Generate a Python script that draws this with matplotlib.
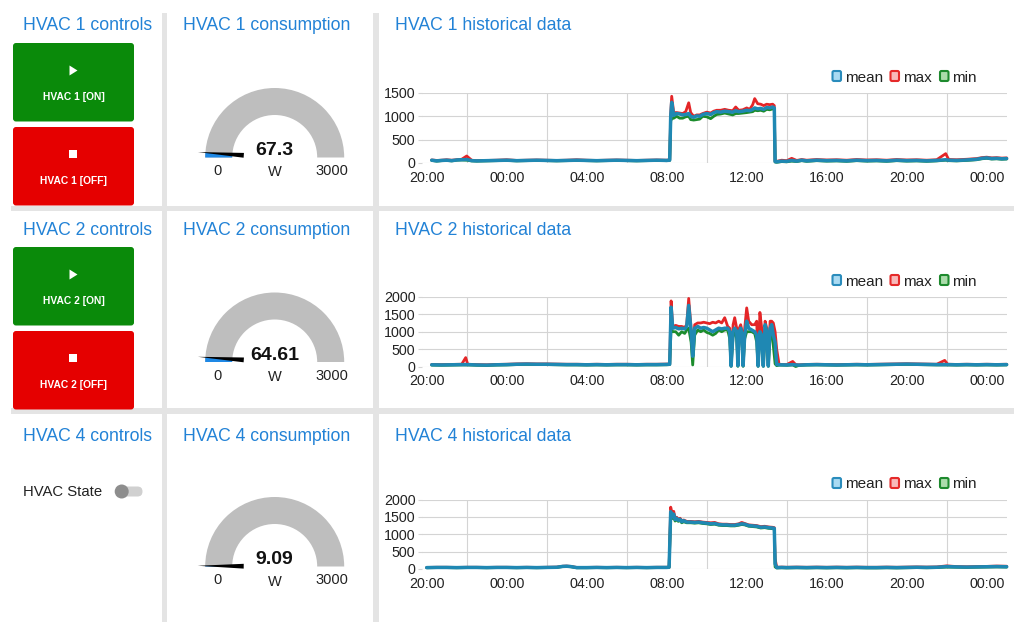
import numpy as np
import matplotlib
matplotlib.use('Agg')
import matplotlib.pyplot as plt
from matplotlib.patches import Rectangle, FancyBboxPatch, Polygon, Wedge, Circle

plt.rcParams['font.family'] = ['Liberation Sans', 'DejaVu Sans']

# ---------------- data ----------------
gauge_values = [67.3, 64.61, 9.09]
gauge_max = 3000
gauge_unit = 'W'
row_names = ['HVAC 1', 'HVAC 2', 'HVAC 4']

x_tick_pos = [0, 4, 8, 12, 16, 20, 24, 28]          # hours after 20:00
x_tick_labels = ['20:00', '00:00', '04:00', '08:00', '12:00', '16:00', '20:00', '00:00']
y_ticks_1 = [0, 500, 1000, 1500]
y_ticks_2 = [0, 500, 1000, 1500, 2000]
y_ticks_3 = [0, 500, 1000, 1500, 2000]

# HVAC 1 (hours after 20:00)
t1 = ([0.25, 0.5, 0.75, 1.0, 1.25, 1.5, 1.75, 2.0, 2.25, 2.5,
       3.0, 3.5, 4.0, 4.5, 5.0, 5.5, 6.0, 6.5, 7.0, 7.5,
       8.0, 8.5, 9.0, 9.5, 10.0, 10.5, 11.0, 11.5, 12.0, 12.15]
      + [12.2, 12.25, 12.35, 12.5, 12.65, 12.8, 12.95, 13.1, 13.2, 13.35,
         13.5, 13.65, 13.8, 14.0, 14.2, 14.35, 14.5, 14.7, 14.9, 15.1,
         15.3, 15.45, 15.6, 15.8, 16.0, 16.15, 16.3, 16.4, 16.55, 16.7,
         16.85, 17.0, 17.15, 17.3, 17.38]
      + [17.42, 17.5, 17.75, 18.0, 18.25, 18.5, 18.75, 19.0, 19.5, 20.0,
         20.5, 21.0, 21.5, 22.0, 22.5, 23.0, 23.5, 24.0, 24.5, 25.0,
         25.5, 25.95, 26.1, 26.5, 27.0, 27.5, 27.75, 28.0, 28.25, 28.5,
         28.75, 29.0])
mean1 = ([60, 45, 55, 60, 50, 65, 70, 75, 50, 45,
          50, 55, 60, 50, 55, 60, 55, 50, 55, 60,
          55, 50, 55, 60, 55, 50, 55, 60, 55, 60]
         + [1000, 1300, 1020, 1060, 1050, 1030, 1040, 1060, 1000, 980,
            1010, 1000, 1040, 1060, 1040, 1080, 1100, 1090, 1110, 1100,
            1090, 1120, 1100, 1110, 1130, 1120, 1150, 1180, 1160, 1170,
            1150, 1190, 1180, 1200, 1180]
         + [30, 25, 40, 35, 55, 40, 60, 45, 60, 50,
            55, 45, 60, 50, 55, 45, 60, 50, 55, 45,
            55, 70, 60, 55, 65, 80, 100, 110, 95, 100,
            90, 95])
max1 = ([65, 55, 60, 70, 60, 70, 80, 150, 60, 50,
         55, 60, 70, 55, 60, 65, 60, 55, 60, 70,
         60, 55, 60, 65, 60, 55, 60, 65, 60, 70]
        + [1050, 1430, 1080, 1080, 1070, 1060, 1100, 1290, 1080, 1000,
           1030, 1030, 1060, 1090, 1070, 1110, 1130, 1130, 1150, 1130,
           1120, 1200, 1130, 1140, 1180, 1150, 1250, 1380, 1270, 1260,
           1230, 1260, 1250, 1260, 1230]
        + [40, 35, 60, 50, 100, 55, 75, 60, 75, 65,
           70, 60, 75, 65, 70, 60, 75, 65, 70, 60,
           70, 200, 75, 70, 80, 95, 115, 125, 110, 115,
           105, 110])
min1 = ([55, 40, 50, 55, 45, 60, 65, 60, 45, 40,
         45, 50, 55, 45, 50, 55, 50, 45, 50, 55,
         50, 45, 50, 55, 50, 45, 50, 55, 50, 55]
        + [900, 950, 960, 1000, 960, 960, 990, 1000, 930, 920,
           930, 940, 1000, 990, 950, 1000, 1040, 1050, 1070, 1050,
           1030, 1060, 1060, 1070, 1080, 1090, 1100, 1130, 1120, 1130,
           1110, 1150, 1140, 1160, 1150]
        + [20, 15, 30, 25, 40, 30, 50, 35, 50, 40,
           45, 35, 50, 40, 45, 35, 50, 40, 45, 35,
           45, 60, 50, 45, 55, 70, 90, 100, 85, 90,
           80, 85])

# HVAC 2
t2 = ([0.25, 0.75, 1.25, 1.75, 1.95, 2.05, 2.5, 3.0, 3.5, 4.0,
       4.5, 5.0, 5.5, 6.0, 6.5, 7.0, 7.5, 8.0, 8.5, 9.0,
       9.5, 10.0, 10.5, 11.0, 11.5, 12.0, 12.15]
      + [12.22, 12.3, 12.45, 12.6, 12.75, 12.9, 13.0, 13.1, 13.22, 13.3,
         13.4, 13.55, 13.7, 13.85, 14.0, 14.15, 14.3, 14.45, 14.6, 14.75,
         14.9, 15.05, 15.15, 15.22, 15.32, 15.4, 15.5, 15.56, 15.63, 15.7,
         15.77, 15.82, 15.9, 16.0, 16.1, 16.25, 16.4, 16.5, 16.57, 16.66,
         16.75, 16.83, 16.92, 17.0, 17.08, 17.17, 17.25, 17.33, 17.42, 17.5]
      + [17.62, 18.0, 18.3, 18.45, 18.6, 19.0, 19.5, 20.0, 20.5, 21.0,
         21.5, 22.0, 22.5, 23.0, 23.5, 24.0, 24.5, 25.0, 25.5, 25.9,
         26.05, 26.5, 27.0, 27.5, 28.0, 28.5, 29.0])
mean2 = ([55, 50, 55, 60, 60, 60, 50, 45, 55, 60,
          70, 75, 70, 70, 65, 60, 60, 55, 60, 55,
          60, 60, 55, 60, 60, 65, 70]
         + [1700, 1100, 1120, 1080, 1100, 1080, 1150, 1750, 1000, 300,
            1100, 1150, 1100, 1120, 1100, 1050, 1000, 1050, 1100, 1080,
            1100, 1100, 1000, 20, 1000, 1100, 1000, 30, 1000, 1100,
            900, 30, 900, 1300, 1100, 1050, 1000, 900, 20, 1000,
            900, 20, 1200, 1000, 20, 1100, 1200, 900, 700, 60]
         + [55, 50, 60, 50, 45, 55, 60, 55, 50, 55,
            60, 55, 60, 65, 70, 75, 70, 65, 60, 60,
            60, 55, 60, 55, 60, 55, 60])
max2 = ([65, 60, 65, 70, 260, 70, 60, 55, 65, 70,
         80, 85, 80, 80, 75, 70, 70, 65, 70, 65,
         70, 70, 65, 70, 70, 75, 80]
        + [1880, 1150, 1180, 1150, 1150, 1120, 1200, 1950, 1100, 500,
           1200, 1250, 1250, 1270, 1250, 1230, 1270, 1250, 1300, 1250,
           1400, 1150, 1100, 40, 1200, 1400, 1100, 50, 1100, 1200,
           1000, 50, 1100, 1680, 1300, 1200, 1200, 1300, 40, 1550,
           1100, 60, 1300, 1100, 80, 1300, 1300, 1250, 1000, 500]
        + [65, 60, 150, 60, 55, 65, 70, 65, 60, 65,
           70, 65, 70, 75, 80, 85, 80, 75, 70, 180,
           70, 65, 70, 65, 70, 65, 70])
min2 = ([45, 40, 45, 50, 50, 50, 40, 35, 45, 50,
         60, 65, 60, 60, 55, 50, 50, 45, 50, 45,
         50, 50, 45, 50, 50, 55, 60]
        + [1100, 1000, 1000, 900, 1000, 950, 1050, 1100, 700, 50,
           900, 1050, 1000, 1050, 980, 950, 900, 950, 1050, 1000,
           1050, 1050, 800, 10, 900, 1000, 800, 10, 900, 1000,
           700, 10, 800, 1000, 1000, 1000, 950, 700, 10, 900,
           800, 10, 900, 800, 10, 900, 1000, 600, 80, 30]
        + [45, 40, 50, 5, 35, 45, 50, 45, 40, 45,
           50, 45, 50, 55, 60, 65, 60, 55, 50, 50,
           50, 45, 50, 45, 50, 45, 50])

# HVAC 4
t3 = ([0.0, 0.5, 1.0, 1.5, 2.0, 2.5, 3.0, 3.5, 4.0, 4.5,
       5.0, 5.5, 6.0, 6.5, 6.8, 7.0, 7.2, 7.5, 8.0, 8.5,
       9.0, 9.5, 10.0, 10.5, 11.0, 11.5, 12.0, 12.12]
      + [12.2, 12.27, 12.35, 12.42, 12.5, 12.58, 12.67, 12.75, 12.85, 13.0,
         13.2, 13.4, 13.6, 13.8, 14.0, 14.2, 14.4, 14.6, 14.8, 15.0,
         15.2, 15.4, 15.6, 15.75, 15.9, 16.1, 16.3, 16.5, 16.7, 16.9,
         17.1, 17.3, 17.38]
      + [17.42, 17.5, 17.75, 18.0, 18.5, 19.0, 19.5, 20.0, 20.5, 21.0,
         21.5, 22.0, 22.5, 23.0, 23.5, 24.0, 24.5, 25.0, 25.5, 26.0,
         26.5, 27.0, 27.5, 28.0, 28.5, 29.0])
mean3 = ([40, 45, 45, 40, 45, 45, 40, 45, 45, 40,
          45, 40, 45, 50, 75, 80, 70, 40, 40, 45,
          40, 45, 40, 45, 40, 45, 45, 50]
         + [1650, 1500, 1580, 1420, 1460, 1400, 1430, 1360, 1390, 1350,
            1350, 1340, 1350, 1330, 1320, 1300, 1310, 1280, 1270, 1270,
            1260, 1260, 1280, 1300, 1290, 1250, 1240, 1230, 1200, 1210,
            1190, 1180, 1170]
         + [150, 40, 45, 40, 45, 40, 45, 40, 45, 40,
            45, 40, 40, 45, 40, 45, 50, 45, 50, 70,
            60, 55, 60, 65, 70, 65])
max3 = ([45, 50, 50, 45, 50, 50, 45, 50, 50, 45,
         50, 45, 50, 55, 80, 85, 75, 45, 45, 50,
         45, 50, 45, 50, 45, 50, 50, 55]
        + [1780, 1600, 1660, 1470, 1490, 1430, 1460, 1390, 1410, 1370,
           1370, 1360, 1370, 1350, 1340, 1330, 1340, 1300, 1290, 1290,
           1280, 1280, 1300, 1340, 1310, 1270, 1260, 1250, 1220, 1230,
           1210, 1200, 1190]
        + [300, 50, 55, 50, 55, 50, 55, 50, 55, 50,
           55, 50, 50, 55, 50, 55, 60, 55, 60, 90,
           70, 65, 70, 75, 85, 80])
min3 = ([35, 40, 40, 35, 40, 40, 35, 40, 40, 35,
         40, 35, 40, 45, 70, 75, 65, 35, 35, 40,
         35, 40, 35, 40, 35, 40, 40, 45]
        + [1550, 1450, 1500, 1380, 1420, 1370, 1400, 1330, 1360, 1330,
           1330, 1320, 1330, 1310, 1300, 1280, 1290, 1260, 1250, 1250,
           1240, 1240, 1260, 1280, 1270, 1230, 1220, 1210, 1180, 1190,
           1170, 1160, 1150]
        + [60, 30, 35, 30, 35, 30, 35, 30, 35, 30,
           35, 30, 30, 35, 30, 35, 40, 35, 40, 55,
           50, 45, 50, 55, 60, 55])

# ---------------- styling ----------------
W, H = 1014, 622
BLUE_TITLE = '#2282d6'
SEP = '#e4e4e4'
GREEN_BTN = '#0a8a0a'
RED_BTN = '#e50000'
C_MEAN, C_MAX, C_MIN = '#1f88b3', '#e42527', '#1b8c2c'
TXT = '#222222'

fig = plt.figure(figsize=(W / 100, H / 100), dpi=100)
fig.patch.set_facecolor('white')
bg = fig.add_axes([0, 0, 1, 1])
bg.set_xlim(0, W)
bg.set_ylim(H, 0)
bg.axis('off')

# separators
bg.add_patch(Rectangle((162, 13), 5, H - 13, facecolor=SEP, edgecolor='none'))
bg.add_patch(Rectangle((373, 13), 6, H - 13, facecolor=SEP, edgecolor='none'))
bg.add_patch(Rectangle((11, 206), W - 11, 5, facecolor=SEP, edgecolor='none'))
bg.add_patch(Rectangle((11, 408), W - 11, 6, facecolor=SEP, edgecolor='none'))

row_dy = [0, 204.5, 409]
title_dy = [0, 205, 411]

for i, name in enumerate(row_names):
    ty = 30 + title_dy[i]
    bg.text(23, ty, f'{name} controls', fontsize=12.7, color=BLUE_TITLE, va='baseline', ha='left')
    bg.text(183, ty, f'{name} consumption', fontsize=12.7, color=BLUE_TITLE, va='baseline', ha='left')
    bg.text(395, ty, f'{name} historical data', fontsize=12.7, color=BLUE_TITLE, va='baseline', ha='left')

# buttons for rows 1 and 2
for i in range(2):
    dy = [0, 204][i]
    name = row_names[i]
    bg.add_patch(FancyBboxPatch((13, 43 + dy), 121, 78.5, boxstyle='round,pad=0,rounding_size=3',
                                facecolor=GREEN_BTN, edgecolor='none'))
    bg.add_patch(FancyBboxPatch((13, 127 + dy), 121, 78.5, boxstyle='round,pad=0,rounding_size=3',
                                facecolor=RED_BTN, edgecolor='none'))
    bg.add_patch(Polygon([(69.5, 65.5 + dy), (69.5, 75.5 + dy), (77.5, 70.5 + dy)], closed=True,
                         facecolor='white', edgecolor='none'))
    bg.add_patch(Rectangle((69, 150 + dy), 8, 8, facecolor='white', edgecolor='none'))
    bg.text(73.5, 100 + dy, f'{name} [ON]', fontsize=7.4, fontweight='bold', color='white',
            ha='center', va='baseline')
    bg.text(73.5, 184 + dy, f'{name} [OFF]', fontsize=7.4, fontweight='bold', color='white',
            ha='center', va='baseline')

# toggle for row 3
bg.text(23, 496.5, 'HVAC State', fontsize=10.7, color=TXT, ha='left', va='baseline')
bg.add_patch(FancyBboxPatch((117, 486.5), 25.5, 10, boxstyle='round,pad=0,rounding_size=5',
                            facecolor='#d0d0d0', edgecolor='none'))
bg.add_patch(Circle((121.7, 491.5), 7, facecolor='#8d8d8d', edgecolor='none'))

# gauges
def draw_gauge(cx, cy, value, vmax, unit):
    R, r = 69.5, 42.5
    bg.add_patch(Wedge((cx, cy), R, 180, 360, width=R - r, facecolor='#bebebe', edgecolor='none'))
    frac = value / vmax
    bg.add_patch(Wedge((cx, cy), R, 180, 180 + frac * 180, width=R - r,
                       facecolor='#1e88e5', edgecolor='none'))
    a = np.radians(180 + frac * 180)
    u = np.array([np.cos(a), np.sin(a)])
    p = np.array([-u[1], u[0]])
    c = np.array([cx, cy])
    tip = c + 77 * u
    b1 = c + 31 * u + 2.4 * p
    b2 = c + 31 * u - 2.4 * p
    bg.add_patch(Polygon([tip, b1, b2], closed=True, facecolor='black', edgecolor='none'))
    bg.text(cx, cy - 2.5, f'{value:g}', fontsize=14, fontweight='bold', color='#111111',
            ha='center', va='baseline')
    bg.text(cx, cy + 19, unit, fontsize=10.5, color=TXT, ha='center', va='baseline')
    bg.text(cx - 57, cy + 17.5, '0', fontsize=10.5, color=TXT, ha='center', va='baseline')
    bg.text(cx + 57, cy + 17.5, f'{vmax}', fontsize=10.5, color=TXT, ha='center', va='baseline')

for i, v in enumerate(gauge_values):
    draw_gauge(274.7, 157.5 + row_dy[i], v, gauge_max, gauge_unit)

# legends
def draw_legend(cy):
    items = [(832.5, 'mean', '#a9daf2', '#2a8cbc'),
             (890.5, 'max', '#f8b9b9', '#e52a2a'),
             (940.0, 'min', '#abdcab', '#1e8a2e')]
    for x, lab, fc, ec in items:
        bg.add_patch(FancyBboxPatch((x, cy - 5), 8.5, 10, boxstyle='round,pad=0,rounding_size=1.5',
                                    facecolor=fc, edgecolor=ec, lw=1.5))
        bg.text(x + 12.5, cy + 5.5, lab, fontsize=11, color=TXT, ha='left', va='baseline')

legend_y = [76, 280, 483]
for ly in legend_y:
    draw_legend(ly)

# charts
def chart(top_px, bot_px, ymax, yticks, t, mn, mx, mi):
    l, r = 421.7, 1006.7
    ax = fig.add_axes([l / W, 1 - bot_px / H, (r - l) / W, (bot_px - top_px) / H])
    ax.set_facecolor('none')
    ax.plot(t, mx, color=C_MAX, lw=2.0, solid_joinstyle='round', solid_capstyle='round',
            clip_on=False, zorder=3)
    ax.plot(t, mi, color=C_MIN, lw=2.0, solid_joinstyle='round', solid_capstyle='round',
            clip_on=False, zorder=3)
    ax.plot(t, mn, color=C_MEAN, lw=2.5, solid_joinstyle='round', solid_capstyle='round',
            clip_on=False, zorder=4)
    ax.set_xlim(-0.25, 29.0)
    ax.set_ylim(0, ymax)
    for s in ax.spines.values():
        s.set_visible(False)
    ax.set_xticks(x_tick_pos)
    ax.set_xticklabels(x_tick_labels)
    ax.set_xticks(np.arange(2, 29, 2), minor=True)
    ax.set_yticks(yticks)
    ax.set_yticklabels([str(v) for v in yticks])
    ax.grid(True, which='minor', axis='x', color='#d4d4d4', lw=0.8)
    ax.grid(True, which='major', axis='y', color='#d4d4d4', lw=0.8)
    ax.set_axisbelow(True)
    ax.tick_params(axis='x', which='both', length=0, pad=5.5, labelsize=10.3, labelcolor=TXT)
    ax.tick_params(axis='y', length=3, width=0.8, color='#d4d4d4', pad=1.5, labelsize=10.3,
                   labelcolor=TXT)
    return ax

chart(93, 163, 1500, y_ticks_1, t1, mean1, max1, min1)
chart(296.7, 366.7, 2000, y_ticks_2, t2, mean2, max2, min2)
chart(499.5, 569, 2000, y_ticks_3, t3, mean3, max3, min3)

fig.savefig('out.png', dpi=100, facecolor='white')
